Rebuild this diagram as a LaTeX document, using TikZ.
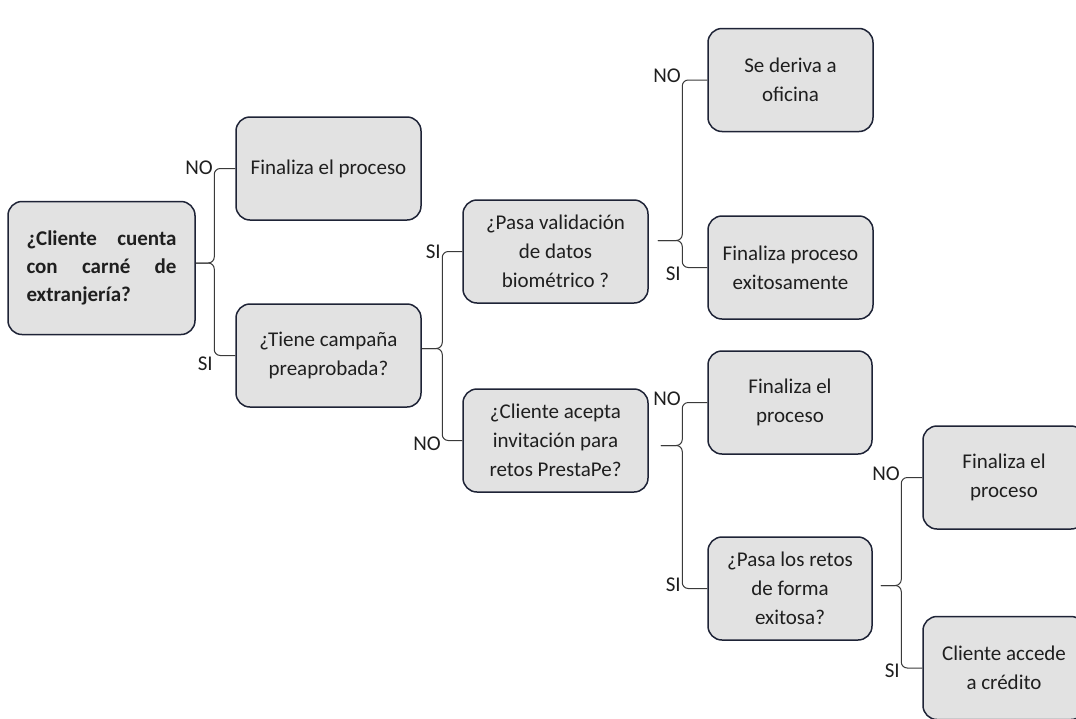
\documentclass[tikz,border=0pt]{standalone}
\usepackage{fontspec}
\setmainfont{Carlito}
\definecolor{boxfill}{HTML}{E2E2E2}
\definecolor{boxline}{HTML}{1E2336}
\definecolor{linkcol}{HTML}{3A3A3A}
\begin{document}
\begin{tikzpicture}[
    x=1pt, y=-1pt,
    box/.style={draw=boxline, fill=boxfill, line width=1.5pt, rounded corners=14pt,
                align=center, minimum width=185pt, minimum height=103pt, inner sep=2pt,
                text=black!88, font=\fontsize{21}{29}\selectfont},
    link/.style={draw=linkcol, line width=1pt, rounded corners=6pt},
    tag/.style={anchor=east, inner sep=1pt, text=black!88, font=\fontsize{21}{24}\selectfont},
]
\clip (0,0) rectangle (1076,718);

% Boxes
\node[box, minimum width=187pt, minimum height=133pt, text width=150pt, align=left,
      font=\fontsize{21}{28}\selectfont\bfseries] (cliente) at (101.5,268)
      {¿Cliente\hfill cuenta\\con\hfill carné\hfill de\\extranjería?};
\node[box] (fin1) at (328.5,168.5) {Finaliza el proceso};
\node[box] (campana) at (328.5,355.5) {¿Tiene campaña\\preaprobada?};
\node[box] (biometria) at (555.5,251.5) {¿Pasa validación\\de datos\\biométrico ?};
\node[box] (invita) at (555.5,440.5) {¿Cliente acepta\\invitación para\\retos PrestaPe?};
\node[box, minimum width=165pt] (oficina) at (790.5,80) {Se deriva a\\oficina};
\node[box, minimum width=165pt] (exito) at (790.5,267.5) {Finaliza proceso\\exitosamente};
\node[box, minimum width=164pt] (fin2) at (790,402.5) {Finaliza el\\proceso};
\node[box, minimum width=164pt] (pasa) at (790,588.5) {¿Pasa los retos\\de forma\\exitosa?};
\node[box, minimum width=162pt] (fin3) at (1004,477.5) {Finaliza el\\proceso};
\node[box, minimum width=162pt] (credito) at (1004,668) {Cliente accede\\a crédito};

% Links
\draw[link] ([yshift=5pt]cliente.east) -| ([xshift=-21pt]fin1.west)
    node[tag, yshift=1pt] (no1) {NO} -- (fin1.west);
\draw[link] ([yshift=5pt]cliente.east) -| ([xshift=-21pt]campana.west)
    node[tag, yshift=-8pt] (si1) {SI} -- (campana.west);

\draw[link] ([yshift=7pt]campana.east) -| ([xshift=-20pt]biometria.west)
    node[tag] (si2) {SI} -- (biometria.west);
\draw[link] ([yshift=7pt]campana.east) -| ([xshift=-20pt]invita.west)
    node[tag, yshift=-3pt] (no2) {NO} -- (invita.west);

\draw[link] ([xshift=9pt,yshift=11pt]biometria.east) -| ([xshift=-25pt]oficina.west)
    node[tag, yshift=4pt] (no3) {NO} -- (oficina.west);
\draw[link] ([xshift=9pt,yshift=11pt]biometria.east) -| ([xshift=-25pt]exito.west)
    node[tag, yshift=-6pt] (si3) {SI} -- (exito.west);

\draw[link] ([xshift=12pt,yshift=-5pt]invita.east) -| ([xshift=-25pt]fin2.west)
    node[tag, yshift=4pt] (no4) {NO} -- (fin2.west);
\draw[link] ([xshift=12pt,yshift=-5pt]invita.east) -| ([xshift=-25pt]pasa.west)
    node[tag, yshift=4pt] (si4) {SI} -- (pasa.west);

\draw[link] ([xshift=8pt,yshift=3pt]pasa.east) -| ([xshift=-21pt]fin3.west)
    node[tag, yshift=4pt] (no5) {NO} -- (fin3.west);
\draw[link] ([xshift=8pt,yshift=3pt]pasa.east) -| ([xshift=-21pt]credito.west)
    node[tag, yshift=-3pt] (si5) {SI} -- (credito.west);

\end{tikzpicture}
\end{document}
